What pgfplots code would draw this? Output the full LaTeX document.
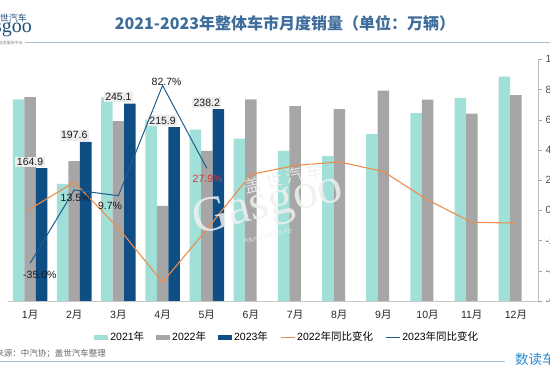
\documentclass[border=0pt]{standalone}
\usepackage{pgfplots}
\pgfplotsset{compat=1.18}
\usepackage{pgfplotstable}
\usepackage{fontspec}
\setmainfont{Liberation Sans}
\newfontfamily\cjk{Noto Sans CJK SC}
\newfontfamily\wmserif{Liberation Serif}
\definecolor{c21}{HTML}{A0E0D9}
\definecolor{c22}{HTML}{A6A6A6}
\definecolor{c23}{HTML}{0E4E85}
\definecolor{corange}{HTML}{EE8C4A}
\definecolor{cblue}{HTML}{1E5C8E}
\definecolor{ctitle}{HTML}{3E6D9B}
\definecolor{cline}{HTML}{A9C1D9}
\definecolor{cbrand}{HTML}{2A8AD2}
\definecolor{clogo}{HTML}{1F4E79}
\definecolor{cred}{HTML}{E0302E}
\newcommand{\yue}{{\cjk 月}}
\newcommand{\nian}{{\cjk 年}}
\newcommand{\fs}{\fontsize{10.5}{12}\selectfont}

\pgfplotstableread{
x y21 y22 g22
0 250.3 253.1 0.9
1 145.5 173.7 18.7
2 252.6 223.4 -11.7
3 225.2 118.1 -47.6
4 212.8 186.2 -12.6
5 201.5 250.2 23.8
6 186.4 242.0 29.7
7 179.9 238.3 32.1
8 207.1 261.0 25.7
9 233.3 250.0 6.9
10 252.2 232.7 -7.9
11 278.6 255.6 -8.4
}\dataA
\pgfplotstableread{
x y23 g23
0 164.9 -35.0
1 197.6 13.5
2 245.1 9.7
3 215.9 82.7
4 238.2 27.9
}\dataB

\pgfplotsset{
  barleg/.style={legend image code/.code={\fill[##1] (0pt,-2.5pt) rectangle (14pt,2.5pt);}},
}

\begin{document}
\begin{tikzpicture}
\useasboundingbox (0pt,0pt) rectangle (550pt,378pt);

% header
\node[text=ctitle, font=\fontsize{16}{18}\selectfont] at (285pt,355pt) {\cjk\bfseries 2021-2023年整体车市月度销量（单位：万辆）};
\draw[cline, line width=1pt] (25pt,335pt) -- (550pt,335pt);
\node[anchor=east, text=clogo, inner sep=0pt, font=\fontsize{9}{10}\selectfont] at (27pt,360pt) {\cjk 盖世汽车};
\node[anchor=east, text=clogo, inner sep=0pt, font=\fontsize{20}{21}\selectfont] at (32pt,350pt) {\wmserif Gasgoo};
\node[anchor=east, text=black!50, inner sep=0pt, font=\fontsize{4}{5}\selectfont] at (23pt,335pt) {\cjk 汽车产业信息服务平台};

% footer
\draw[cline, line width=1pt] (0pt,16.5pt) -- (505pt,16.5pt);
\node[anchor=east, text=black!60, inner sep=0pt, font=\fontsize{8.5}{9}\selectfont] at (106pt,24pt) {\cjk 资料来源：中汽协；盖世汽车整理};
\node[anchor=west, text=cbrand, inner sep=0pt, font=\fontsize{13.5}{15}\selectfont] at (515pt,18.5pt) {\cjk 数读车市};

\begin{axis}[
  at={(8pt,77pt)}, anchor=south west, scale only axis,
  width=530pt, height=241.7pt,
  xmin=-0.5, xmax=11.5, ymin=0, ymax=300,
  axis y line=none, axis x line*=bottom,
  x axis line style={draw=black!22, line width=0.9pt, -},
  xtick={0,...,11},
  xticklabels={1\yue,2\yue,3\yue,4\yue,5\yue,6\yue,7\yue,8\yue,9\yue,10\yue,11\yue,12\yue},
  major tick length=0pt,
  xticklabel style={font=\fs, text=black!85, yshift=-6pt},
  /pgf/number format/assume math mode=true,
  legend columns=5,
  legend cell align=left,
  legend style={at={(0.527,-0.150)}, anchor=center, draw=none, fill=none, font=\fs,
    /tikz/every even column/.append style={column sep=10pt}},
]
\addplot[ybar, bar width=11.5pt, bar shift=-11.5pt, fill=c21, draw=none, barleg] table[x=x,y=y21] {\dataA};
\addlegendentry{2021\nian}
\addplot[ybar, bar width=11.5pt, bar shift=0pt, fill=c22, draw=none, barleg] table[x=x,y=y22] {\dataA};
\addlegendentry{2022\nian}
\addplot[ybar, bar width=11.5pt, bar shift=11.5pt, fill=c23, draw=none, barleg,
  nodes near coords, point meta=y,
  nodes near coords style={font=\fs, text=black!90, fill=black!7, inner sep=1.5pt, yshift=1pt,
    /pgf/number format/.cd, fixed, fixed zerofill, precision=1, assume math mode=true}] table[x=x,y=y23] {\dataB};
\addlegendentry{2023\nian}
\addlegendimage{legend image code/.code={\draw[corange, line width=1.3pt] (0pt,0pt) -- (14pt,0pt);}}
\addlegendentry{2022{\cjk 年同比变化}}
\addlegendimage{legend image code/.code={\draw[cblue, line width=1.3pt] (0pt,0pt) -- (14pt,0pt);}}
\addlegendentry{2023{\cjk 年同比变化}}
\end{axis}

\begin{axis}[
  at={(8pt,77pt)}, anchor=south west, scale only axis,
  width=530pt, height=241.7pt,
  xmin=-0.5, xmax=11.5, ymin=-60, ymax=100,
  axis x line=none, axis y line*=right,
  y axis line style={draw=black!25, -},
  ytick={-60,-40,...,100},
  yticklabel={\pgfmathprintnumber{\tick}\%},
  tick align=outside, major tick length=4pt,
  ytick style={draw=black!35},
  yticklabel style={font=\fs, text=black!70},
  /pgf/number format/assume math mode=true,
  clip=false,
]
\addplot[corange, line width=1.1pt, no marks] table[x=x,y=g22] {\dataA};
\addplot[cblue, line width=1pt, no marks] table[x=x,y=g23] {\dataB};
\node[font=\fs, text=black!90] at (axis cs:0.22,-43) {-35.0\%};
\node[font=\fs, text=black!90] at (axis cs:1.03,8.4) {13.5\%};
\node[font=\fs, text=black!90] at (axis cs:1.81,3.1) {9.7\%};
\node[font=\fs, text=black!90] at (axis cs:3.09,85.2) {82.7\%};
\node[font=\fs, text=cred] at (axis cs:4.02,20.8) {27.9\%};
\end{axis}

% watermark
\node[rotate=13, text=black!6, opacity=0.85, font=\fontsize{17}{18}\selectfont] at (284pt,200pt) {\cjk 盖\ 世\ 汽\ 车};
\node[rotate=13, text=black!6, opacity=0.85, font=\fontsize{50}{52}\selectfont] at (268pt,172pt) {\wmserif Gasgoo};
\node[rotate=13, text=black!6, opacity=0.85, font=\fontsize{5}{6}\selectfont] at (268pt,142pt) {\cjk 汽车产业信息服务平台};
\end{tikzpicture}
\end{document}
